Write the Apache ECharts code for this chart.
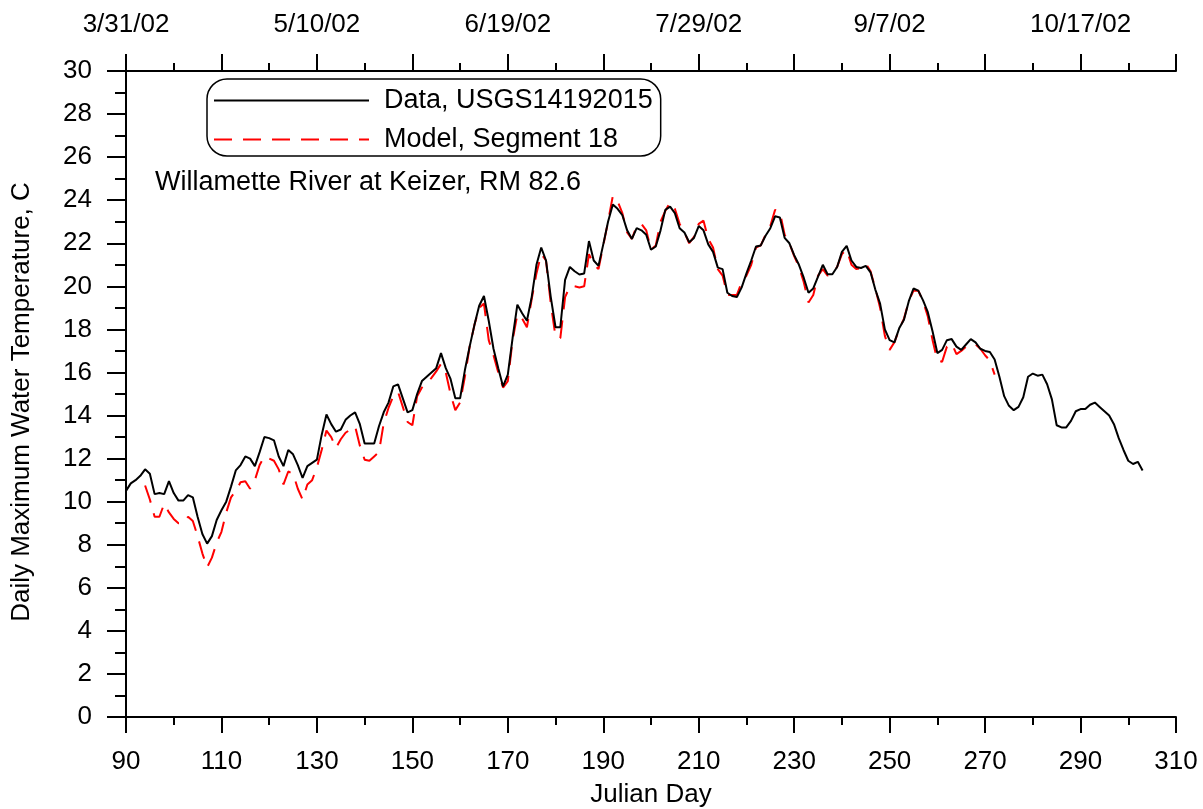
<!DOCTYPE html>
<html>
<head>
<meta charset="utf-8">
<script src="https://cdn.jsdelivr.net/npm/echarts@6/dist/echarts.min.js"></script>
<style>
html,body{margin:0;padding:0;background:#fff;}
#chart{width:1203px;height:809px;}
</style>
</head>
<body>
<div id="chart"></div>
<script>
// Julian day of the first value in each series
const DAY0 = 90;
const dataStartDay = 90;
const modelStartDay = 94;

// Data, USGS14192015 (daily max water temperature, C), days 90..303
const dataTemp = [
10.5,10.85,11.0,11.2,11.5,11.3,10.35,10.4,10.35,10.95,
10.4,10.05,10.05,10.3,10.2,9.3,8.5,8.05,8.4,9.15,
9.6,10.0,10.7,11.45,11.7,12.1,12.0,11.65,12.3,13.0,
12.95,12.85,12.1,11.65,12.4,12.2,11.7,11.1,11.65,11.8,
11.95,13.1,14.05,13.6,13.25,13.35,13.8,14.0,14.15,13.6,
12.7,12.7,12.7,13.5,14.15,14.6,15.35,15.45,14.8,14.15,
14.25,15.0,15.6,15.8,16.0,16.2,16.9,16.2,15.7,14.8,
14.8,16.1,17.2,18.2,19.1,19.55,18.4,17.1,16.2,15.35,
15.9,17.6,19.15,18.75,18.4,19.5,21.0,21.8,21.2,19.5,
18.1,18.1,20.3,20.9,20.7,20.55,20.6,22.1,21.2,20.95,
21.95,23.0,23.8,23.6,23.3,22.6,22.2,22.7,22.6,22.4,
21.7,21.85,22.6,23.55,23.7,23.4,22.7,22.5,22.05,22.25,
22.8,22.6,21.95,21.6,20.87,20.8,19.7,19.55,19.5,19.95,
20.6,21.2,21.85,21.9,22.35,22.7,23.25,23.2,22.25,22.0,
21.45,21.0,20.4,19.7,19.9,20.45,21.0,20.56,20.56,20.9,
21.6,21.88,21.2,20.9,20.85,20.95,20.65,19.85,19.2,18.0,
17.5,17.4,18.05,18.45,19.3,19.9,19.8,19.35,18.8,17.9,
16.9,17.05,17.5,17.55,17.2,17.05,17.3,17.55,17.4,17.1,
17.0,16.95,16.6,15.8,14.9,14.45,14.25,14.4,14.85,15.8,
15.95,15.85,15.9,15.45,14.75,13.55,13.45,13.45,13.75,14.2,
14.3,14.3,14.5,14.6,14.4,14.2,14.0,13.6,12.95,12.4,
11.9,11.75,11.85,11.45
];

// Model, Segment 18, days 94..272
const modelTemp = [
10.75,10.1,9.3,9.3,9.9,9.5,9.2,9.0,9.0,9.3,
9.1,8.4,7.6,6.95,7.4,8.1,8.6,9.5,10.2,10.5,
10.9,10.95,10.6,11.0,11.7,12.1,12.0,11.9,11.5,10.8,
11.4,11.3,10.6,10.1,10.8,11.0,11.6,12.4,13.3,13.0,
12.5,12.9,13.2,13.35,13.5,12.6,11.95,11.9,12.1,12.3,
13.65,14.35,14.9,15.1,14.4,13.7,13.55,14.9,15.3,15.5,
15.75,16.05,16.4,16.0,15.0,14.25,14.6,15.8,17.2,18.2,
19.0,19.2,17.5,16.8,16.0,15.3,15.6,17.5,18.7,18.5,
18.1,19.4,20.6,21.5,21.2,19.2,17.65,17.6,19.5,20.0,
20.0,19.95,20.0,21.5,21.0,20.8,21.9,23.0,24.2,23.95,
23.4,22.5,22.2,22.8,22.9,22.6,21.7,21.9,23.0,23.5,
23.9,23.6,22.9,22.5,22.0,22.3,22.9,23.05,22.2,21.8,
20.8,20.5,19.6,19.6,19.6,20.2,20.5,21.0,21.8,21.9,
22.4,22.8,23.55,23.45,22.4,22.0,21.4,20.9,20.2,19.25,
19.6,20.5,20.8,20.5,20.6,20.9,21.5,21.7,21.0,20.8,
20.85,21.05,20.7,19.9,19.0,17.7,17.05,17.4,18.0,18.5,
19.3,19.8,19.8,19.3,18.6,17.5,16.55,16.5,17.2,17.35,
16.85,17.0,17.2,17.3,17.3,17.1,16.8,16.55,15.9
];

// Axis tick labels
const xMin = 90, xMax = 310;
const topDateLabels = ['3/31/02','5/10/02','6/19/02','7/29/02','9/7/02','10/17/02'];
const seriesNames = ['Data, USGS14192015', 'Model, Segment 18'];
const annotation = 'Willamette River at Keizer, RM 82.6';

const FONT = "'Liberation Sans', Arial, sans-serif";

function toPairs(start, vals) {
  return vals.map((v, i) => [start + i - DAY0, v]);
}

const chart = echarts.init(document.getElementById('chart'), null, {renderer: 'canvas'});

const axisLineStyle = {color: '#000', width: 2};

const option = {
  backgroundColor: '#fff',
  animation: false,
  textStyle: {fontFamily: FONT, color: '#000'},
  grid: {left: 126, top: 71, width: 1050, height: 646, containLabel: false, outerBoundsMode: 'none'},
  legend: {
    show: true,
    orient: 'vertical',
    left: 207,
    top: 79,
    data: seriesNames,
    itemWidth: 155,
    itemHeight: 16,
    itemGap: 12,
    padding: [8, 8, 3, 6],
    borderColor: '#000',
    borderWidth: 1.5,
    borderRadius: 20,
    itemStyle: {opacity: 0},
    textStyle: {fontFamily: FONT, fontSize: 27, color: '#000', padding: [0, 0, 0, 10]},
    selectedMode: false
  },
  xAxis: [
    {
      type: 'value', position: 'bottom',
      min: xMin - DAY0, max: xMax - DAY0, interval: 20,
      axisLine: {show: true, onZero: false, lineStyle: axisLineStyle},
      axisTick: {show: true, inside: false, length: 16, lineStyle: axisLineStyle},
      minorTick: {show: true, splitNumber: 2, length: 8, lineStyle: axisLineStyle},
      splitLine: {show: false},
      minorSplitLine: {show: false},
      axisLabel: {fontFamily: FONT, fontSize: 26, color: '#000', margin: 32,
        formatter: v => String(v + DAY0)},
      name: 'Julian Day', nameLocation: 'middle', nameGap: 65,
      nameTextStyle: {fontFamily: FONT, fontSize: 26, color: '#000'}
    },
    {
      type: 'value', position: 'top',
      min: xMin - DAY0, max: xMax - DAY0, interval: 20,
      axisLine: {show: true, onZero: false, lineStyle: axisLineStyle},
      axisTick: {show: true, inside: false, length: 17, lineStyle: axisLineStyle},
      minorTick: {show: true, splitNumber: 2, length: 8, lineStyle: axisLineStyle},
      splitLine: {show: false},
      axisLabel: {fontFamily: FONT, fontSize: 26, color: '#000', margin: 33,
        formatter: v => (v % 40 === 0 ? (topDateLabels[v / 40] || '') : '')}
    }
  ],
  yAxis: {
    type: 'value', min: 0, max: 30, interval: 2,
    axisLine: {show: true, onZero: false, lineStyle: axisLineStyle},
    axisTick: {show: true, inside: false, length: 19, lineStyle: axisLineStyle},
    minorTick: {show: true, splitNumber: 2, length: 11, lineStyle: axisLineStyle},
    splitLine: {show: false},
    axisLabel: {fontFamily: FONT, fontSize: 26, color: '#000', margin: 34},
    name: 'Daily Maximum Water Temperature, C', nameLocation: 'middle', nameGap: 91,
    nameTextStyle: {fontFamily: FONT, fontSize: 26, color: '#000', padding: [0, 16, 0, 0]}
  },
  graphic: [
    {type: 'text', left: 155, top: 169,
     style: {text: annotation, fontFamily: FONT, fontSize: 27, fill: '#000'}}
  ],
  series: [
    {
      name: seriesNames[0], type: 'line', xAxisIndex: 0,
      data: toPairs(dataStartDay, dataTemp),
      showSymbol: false, symbol: 'none',
      lineStyle: {color: '#000', width: 2},
      itemStyle: {color: '#000'},
      z: 3
    },
    {
      name: seriesNames[1], type: 'line', xAxisIndex: 0,
      data: toPairs(modelStartDay, modelTemp),
      showSymbol: false, symbol: 'none',
      lineStyle: {color: '#ff0000', width: 2, type: [18, 11]},
      itemStyle: {color: '#ff0000'},
      z: 2
    }
  ]
};
chart.setOption(option);
</script>
</body>
</html>
